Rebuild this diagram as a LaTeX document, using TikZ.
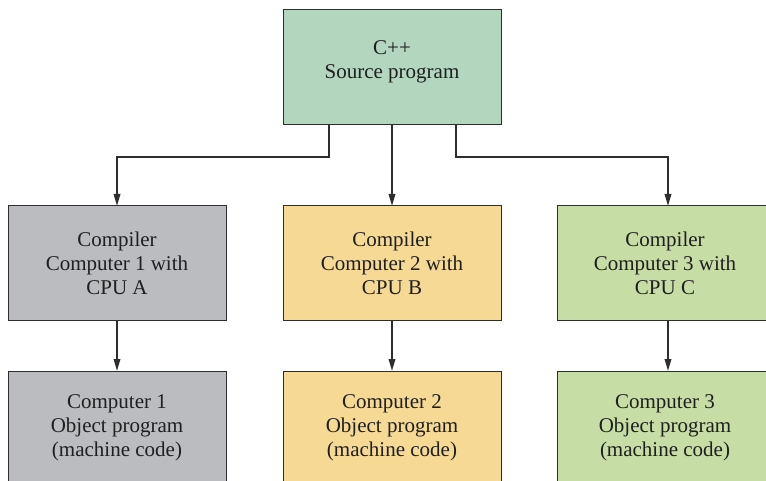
\documentclass[tikz,border=0pt]{standalone}
\usepackage{fontspec}
\setmainfont{Liberation Serif}
\usetikzlibrary{arrows.meta}
\definecolor{topc}{HTML}{B3D6BF}
\definecolor{grayc}{HTML}{BBBCC0}
\definecolor{yelc}{HTML}{F6D995}
\definecolor{grnc}{HTML}{C6DEA6}
\definecolor{edgec}{HTML}{2E2E2E}
\tikzset{
  box/.style={draw=edgec, line width=1pt, minimum width=218pt, minimum height=114pt, inner sep=0pt, outer sep=0pt},
  txt/.style={align=center, inner sep=0pt, font=\fontsize{21}{24}\selectfont, text=black!88},
  arr/.style={draw=edgec, line width=1.8pt, -{Stealth[length=12pt,width=6.5pt,inset=0pt]}}
}
\begin{document}
\begin{tikzpicture}[x=1pt,y=-1pt]
\useasboundingbox (0,0) rectangle (766,481);
\clip (0,0) rectangle (766,481);
\fill[white] (0,0) rectangle (766,481);
% boxes
\node[box, fill=topc, minimum height=115pt] (top) at (392,67.5) {};
\node[box, fill=grayc] (c1) at (117,263) {};
\node[box, fill=yelc] (c2) at (392,263) {};
\node[box, fill=grnc, minimum width=240pt] (c3) at (677,263) {};
\node[box, fill=grayc] (o1) at (117,428) {};
\node[box, fill=yelc] (o2) at (392,428) {};
\node[box, fill=grnc, minimum width=240pt] (o3) at (677,428) {};
% texts
\node[txt] (ttop) at (392,62) {C++\\Source program};
\node[txt] (tc1) at (117,263) {Compiler\\Computer 1 with\\CPU A};
\node[txt] (tc2) at (392,263) {Compiler\\Computer 2 with\\CPU B};
\node[txt] (tc3) at (665,263) {Compiler\\Computer 3 with\\CPU C};
\node[txt] (to1) at (117,428) {Computer 1\\Object program\\(machine code)};
\node[txt] (to2) at (392,428) {Computer 2\\Object program\\(machine code)};
\node[txt] (to3) at (665,428) {Computer 3\\Object program\\(machine code)};
% connectors
\draw[arr] ([xshift=-63pt]top.south) -- ++(0,32) -| (c1.north);
\draw[arr] (top.south) -- (c2.north);
\draw[arr] ([xshift=64pt]top.south) -- ++(0,32) -| ([xshift=-9pt]c3.north);
\draw[arr] (c1.south) -- (o1.north);
\draw[arr] (c2.south) -- (o2.north);
\draw[arr] ([xshift=-9pt]c3.south) -- ([xshift=-9pt]o3.north);
\end{tikzpicture}
\end{document}
